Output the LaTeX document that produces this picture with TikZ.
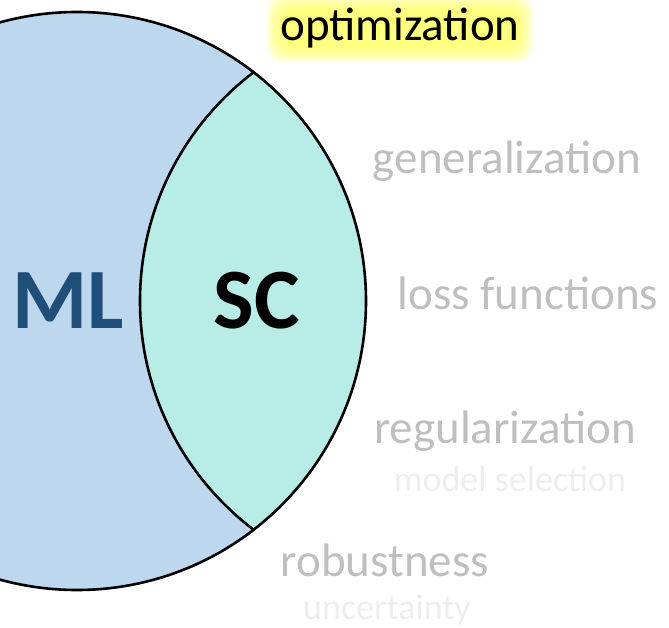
\documentclass[tikz,border=0pt]{standalone}
\usepackage{fontspec}
\setmainfont{Carlito}
\usetikzlibrary{backgrounds}
\definecolor{mlfill}{HTML}{BDD7EE}
\definecolor{scfill}{HTML}{B7ECE7}
\definecolor{mltext}{HTML}{1F4E79}
\definecolor{topicgray}{HTML}{BFBFBF}
\definecolor{subgray}{HTML}{EEEEEE}
\definecolor{glowyellow}{HTML}{FFFF50}
\tikzset{
  topic/.style={text=topicgray, font=\fontsize{47}{56}\selectfont, inner sep=0pt, anchor=base},
  subtopic/.style={text=subgray, font=\fontsize{36}{44}\selectfont, inner sep=0pt, anchor=base},
  biglabel/.style={font=\fontsize{86}{100}\selectfont\bfseries, inner sep=0pt, anchor=base},
  outline/.style={draw=black, line width=2.6pt},
}
\begin{document}
\begin{tikzpicture}[x=1pt,y=-1pt]
\useasboundingbox (0,0) rectangle (669,628);
\coordinate (mlc) at (77,301);
\coordinate (scc) at (427,301);
\fill[mlfill] (mlc) circle[radius=289];
\begin{scope}
  \clip (mlc) circle[radius=289];
  \fill[scfill] (scc) circle[radius=287];
  \draw[outline] (scc) circle[radius=287];
\end{scope}
\draw[outline] (mlc) circle[radius=289];

\node[biglabel, text=mltext] (ml) at (68,328) {ML};
\node[biglabel, text=black] (sc) at (257,328) {SC};

\node[font=\fontsize{47}{56}\selectfont, inner sep=0pt, anchor=base] (opt) at (400,41) {optimization};
\begin{scope}[on background layer]
  \foreach \s in {14,13,...,-2} {
    \fill[glowyellow, opacity=0.075, rounded corners=16pt]
      ([xshift=-\s pt, yshift=\s pt]opt.north west) rectangle ([xshift=\s pt, yshift=-\s pt]opt.south east);
  }
\end{scope}

\node[topic] (gen) at (507,174) {generalization};
\node[topic] (loss) at (528,309) {loss functions};
\node[topic] (reg) at (505,443) {regularization};
\node[subtopic] (msel) at (510,491) {model selection};
\node[topic] (rob) at (385,576) {robustness};
\node[subtopic] (unc) at (387,619) {uncertainty};
\end{tikzpicture}
\end{document}
